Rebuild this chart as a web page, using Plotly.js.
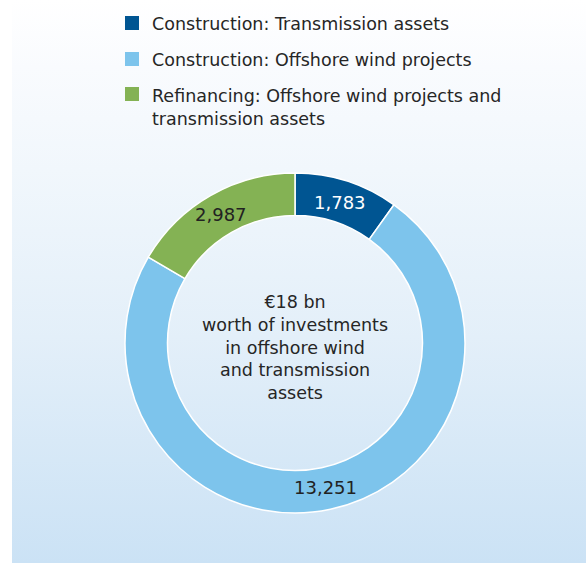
<!DOCTYPE html>
<html>
<head>
<meta charset="utf-8">
<script src="https://cdn.plot.ly/plotly-3.0.1.min.js"></script>
<style>
  html, body { margin: 0; padding: 0; background: #ffffff; }
  #wrap { position: relative; width: 586px; height: 563px; overflow: hidden; }
  #panel { position: absolute; left: 12px; top: 0; width: 574px; height: 563px;
    background: linear-gradient(to bottom, #ffffff 0%, #f9fbfe 12%, #f1f7fc 30%, #e3eff9 60%, #cbe2f5 100%); }
  #chart { position: absolute; left: 0; top: 0; width: 586px; height: 563px; }
</style>
</head>
<body>
<div id="wrap"><div id="panel"></div><div id="chart"></div></div>
<script>
// ---- data ----
const categories = [
  "Construction: Transmission assets",
  "Construction: Offshore wind projects",
  "Refinancing: Offshore wind projects and<br>transmission assets"
];
const values = [1783, 13251, 2987];
const colors = ["#005592", "#7dc4ec", "#84b254"];
const labelColors = ["#ffffff", "#222222", "#222222"];
const centerText = "€18 bn<br>worth of investments<br>in offshore wind<br>and transmission<br>assets";

const W = 586, H = 563;
const px = x => x / W;
const py = y => 1 - y / H;
const FONT = "DejaVu Sans, Liberation Sans, sans-serif";
const TXT = "#262626";

// donut geometry (pixels)
const CX = 295, CY = 343, R = 170, HOLE = 0.75;

const trace = {
  type: "pie",
  labels: categories,
  values: values,
  sort: false,
  direction: "clockwise",
  rotation: 0,
  hole: HOLE,
  marker: { colors: colors, line: { color: "#ffffff", width: 1.5 } },
  textinfo: "none",
  hoverinfo: "none",
  showlegend: false,
  domain: { x: [px(CX - R), px(CX + R)], y: [py(CY + R), py(CY - R)] }
};

// value labels at the middle of each slice, derived from the data
const total = values.reduce((a, b) => a + b, 0);
const LR = R * (1 + HOLE) / 2 - 1;
let cum = 0;
const valueLabels = values.map((v, i) => {
  const mid = (cum + v / 2) / total * 2 * Math.PI;
  cum += v;
  return {
    xref: "paper", yref: "paper",
    x: px(CX + LR * Math.sin(mid)), y: py(CY - LR * Math.cos(mid)),
    xanchor: "center", yanchor: "middle", showarrow: false,
    text: v.toLocaleString("en-US"),
    font: { family: FONT, size: 18, color: labelColors[i] }
  };
});

const legendTops = [16, 52, 87];
const legendTextTops = [11.5, 47.5, 83.5];
const shapes = legendTops.map((t, i) => ({
  type: "rect", xref: "paper", yref: "paper",
  x0: px(125), x1: px(139), y0: py(t + 14), y1: py(t),
  fillcolor: colors[i], line: { width: 0 }
}));
const annotations = legendTextTops.map((t, i) => ({
  xref: "paper", yref: "paper", x: px(150), y: py(t),
  xanchor: "left", yanchor: "top", align: "left",
  text: categories[i], showarrow: false,
  font: { family: FONT, size: 17.5, color: TXT }
}));
annotations.push({
  xref: "paper", yref: "paper", x: px(CX), y: py(347),
  xanchor: "center", yanchor: "middle", align: "center",
  text: centerText, showarrow: false,
  font: { family: FONT, size: 17.5, color: TXT }
});
annotations.push(...valueLabels);

const layout = {
  width: W, height: H,
  margin: { l: 0, r: 0, t: 0, b: 0 },
  paper_bgcolor: "rgba(0,0,0,0)",
  plot_bgcolor: "rgba(0,0,0,0)",
  showlegend: false,
  shapes: shapes,
  annotations: annotations
};

Plotly.newPlot("chart", [trace], layout, { displayModeBar: false, staticPlot: true });
</script>
</body>
</html>
